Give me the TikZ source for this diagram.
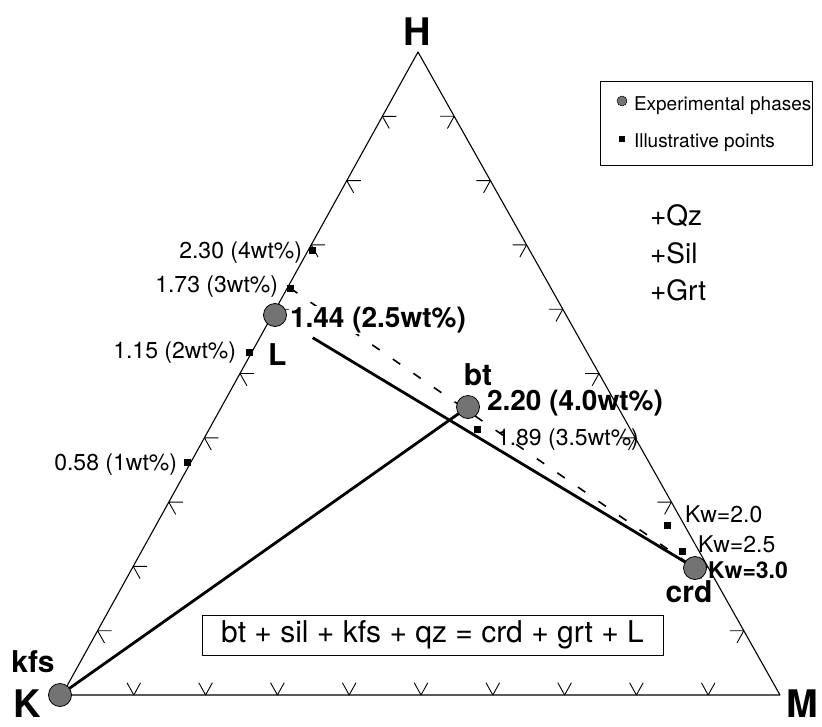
\documentclass[tikz,border=0pt]{standalone}
\usepackage{fontspec}
\setmainfont{TeX Gyre Heros}
\usetikzlibrary{positioning,calc}

\begin{document}
\begin{tikzpicture}[x=1pt,y=-1pt,line join=round,
   every node/.style={inner sep=0pt,outer sep=0pt},
   phase/.style={circle,draw=black,fill=black!55,line width=0.8pt,minimum size=23pt},
   illus/.style={rectangle,fill=black,minimum size=7pt},
   side/.style={line width=1.1pt},
   tick/.style={line width=0.9pt},
   tie/.style={line width=2.8pt},
   tiedash/.style={line width=1.6pt,dash pattern=on 9pt off 16pt},
   small/.style={font=\fontsize{23}{26}\selectfont},
   bigval/.style={font=\fontsize{28}{32}\selectfont\bfseries},
   apex/.style={font=\fontsize{38}{42}\selectfont\bfseries},
   phname/.style={font=\fontsize{30}{34}\selectfont\bfseries}]
  \useasboundingbox (0,0) rectangle (822,726);
  % apices of the triangle
  \coordinate (K) at (62,695);
  \coordinate (H) at (418,52);
  \coordinate (M) at (780,695);
  \draw[side] (K) -- (H) -- (M) -- cycle;
  % ticks on the three sides
  \foreach \k in {1,...,9}{
    \coordinate (tb) at ($(K)!\k/10!(M)$);
    \coordinate (tl) at ($(K)!\k/10!(H)$);
    \coordinate (tr) at ($(H)!\k/10!(M)$);
    \draw[tick] (tb) +(61:14pt) -- (tb) -- +(119:14pt);
    \draw[tick] (tl) +(0:14pt) -- (tl) -- +(-60.6:14pt);
    \draw[tick] (tr) +(180:14pt) -- (tr) -- +(241:14pt);
  }
  % positions of the phases
  \coordinate (pkfs) at (60,695);
  \coordinate (pL) at (275,315);
  \coordinate (pbt) at (468,407);
  \coordinate (pcrd) at (695,568);
  \coordinate (p173) at (290,288);
  % tie lines
  \draw[tiedash] (p173) -- (pcrd);
  \draw[tie,shorten <=44pt] (pL) -- (pcrd);
  \draw[tie] (pkfs) -- (pbt);
  % phases
  \node[phase] (kfs) at (pkfs) {};
  \node[phase] (L) at (pL) {};
  \node[phase] (bt) at (pbt) {};
  \node[phase] (crd) at (pcrd) {};
  % illustrative points
  \node[illus] (s230) at (312,250) {};
  \node[illus] (s173) at (p173) {};
  \node[illus] (s115) at (249,352) {};
  \node[illus] (s058) at (187,462) {};
  \node[illus] (s189) at (477,429) {};
  \node[illus] (skw20) at (667,525) {};
  \node[illus] (skw25) at (682,551) {};
  % labels
  \node[apex,anchor=base] (tH) at (417,45) {H};
  \node[apex,anchor=base] (tK) at (27,717) {K};
  \node[apex,anchor=base] (tM) at (802,717) {M};
  \node[phname,anchor=base] (tkfs) at (33,672) {kfs};
  \node[phname,anchor=base] (tcrd) at (689,602) {crd};
  \node[phname,anchor=base] (tbt) at (478,385) {bt};
  \node[phname,anchor=base west] (tL) at (268,365) {L};
  \node[bigval,anchor=base west,fill=white,inner sep=1pt] (v144) at (289,327) {1.44 (2.5wt\%)};
  \node[bigval,anchor=base west] (v220) at (487,410) {2.20 (4.0wt\%)};
  \node[small,anchor=base east] (v230) at (302,258) {2.30 (4wt\%)};
  \node[small,anchor=base east] (v173) at (278,292) {1.73 (3wt\%)};
  \node[small,anchor=base east] (v115) at (236,358) {1.15 (2wt\%)};
  \node[small,anchor=base east] (v058) at (177,470) {0.58 (1wt\%)};
  \node[small,anchor=base west] (v189) at (497,445) {1.89 (3.5wt\%)};
  \node[small,anchor=base west] (kw20) at (685,522) {Kw=2.0};
  \node[small,anchor=base west] (kw25) at (698,552) {Kw=2.5};
  \node[small,anchor=base west,font=\fontsize{23}{26}\selectfont\bfseries] (kw30) at (708,578) {Kw=3.0};
  % excess phases
  \node[font=\fontsize{28}{32}\selectfont,anchor=base west] (qz) at (650,225) {+Qz};
  \node[font=\fontsize{28}{32}\selectfont,anchor=base west] (sil) at (650,263) {+Sil};
  \node[font=\fontsize{28}{32}\selectfont,anchor=base west] (grt) at (650,300) {+Grt};
  % reaction
  \node[draw,line width=1pt,minimum width=461pt,minimum height=40pt,
        font=\fontsize{30}{34}\selectfont] (rxn) at (432.5,635)
        {bt + sil + kfs + qz = crd + grt + L};
  % legend
  \draw[line width=1pt] (600,81) rectangle (812,165);
  \node[phase,minimum size=10pt,line width=0.5pt] (lgc) at (622,101) {};
  \node[illus,minimum size=6pt] (lgs) at (622,139) {};
  \node[font=\fontsize{19}{22}\selectfont,anchor=base west] (lgct) at (634,110) {Experimental phases};
  \node[font=\fontsize{19}{22}\selectfont,anchor=base west] (lgst) at (634,147) {Illustrative points};
\end{tikzpicture}
\end{document}
